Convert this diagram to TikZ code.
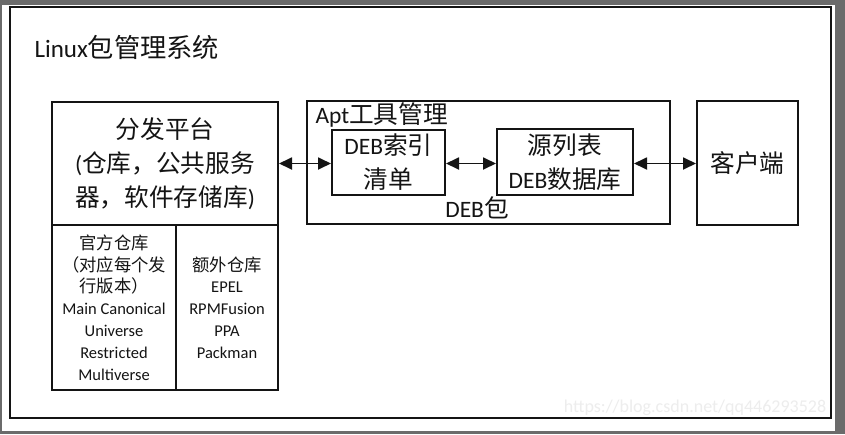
\documentclass[tikz,border=0pt]{standalone}
\usepackage{fontspec}
\setmainfont{Carlito}
\newfontfamily\cjk[Scale=1.05]{Noto Sans CJK SC}
\usetikzlibrary{arrows.meta}
\definecolor{bggray}{HTML}{6B6B6B}
\definecolor{ink}{HTML}{141414}
\begin{document}
\begin{tikzpicture}[x=1pt,y=-1pt,
  box/.style={draw=ink, line width=2pt, inner sep=0pt},
  big/.style={font=\fontsize{23.5}{34}\selectfont, align=center, text=ink},
  small/.style={font=\fontsize{16.5}{21.8}\selectfont, align=center, text=ink},
  link/.style={ink, line width=1.8pt, {Triangle[length=13pt,width=12pt]}-{Triangle[length=13pt,width=12pt]}},
]
\useasboundingbox (0,0) rectangle (845,434);
\fill[bggray] (0,0) rectangle (845,434);
\fill[white] (2,5) rectangle (835,431);
\draw[ink, line width=2.6pt] (10,7) rectangle (831,418);

\node[anchor=west, text=ink, font=\fontsize{25}{30}\selectfont] (title) at (31,47) {Linux{\cjk 包管理系统}};

\node[box, minimum width=226pt, minimum height=123pt, big] (dist) at (165,163.5)
  {{\cjk 分发平台}\\({\cjk 仓库，公共服务}\\{\cjk 器，软件存储库})};
\node[box, minimum width=124pt, minimum height=165pt, small] (official) at (114,307.5)
  {{\cjk 官方仓库}\\{\cjk （对应每个发}\\{\cjk 行版本）}\\Main Canonical\\Universe\\Restricted\\Multiverse};
\node[box, minimum width=102pt, minimum height=165pt, small] (extra) at (227,307.5)
  {{\cjk 额外仓库}\\EPEL\\RPMFusion\\PPA\\Packman};

\node[box, minimum width=363pt, minimum height=123pt] (apt) at (488.5,162.5) {};
\node[anchor=west, big] (aptlabel) at (312,115) {Apt{\cjk 工具管理}};
\node[box, minimum width=113pt, minimum height=65pt, big] (deb) at (388.5,162.5)
  {DEB{\cjk 索引}\\{\cjk 清单}};
\node[box, minimum width=136pt, minimum height=66pt, big] (src) at (565,162)
  {{\cjk 源列表}\\DEB{\cjk 数据库}};
\node[big] (deblabel) at (477,208) {DEB{\cjk 包}};

\node[box, minimum width=101pt, minimum height=124pt, big] (client) at (747.5,163) {{\cjk 客户端}};

\draw[link] (dist.east) -- (dist.east -| deb.west);
\draw[link] (deb.east |- dist.east) -- (dist.east -| src.west);
\draw[link] (src.east |- dist.east) -- (dist.east -| client.west);

\node[text=black!7, font=\fontsize{18}{20}\selectfont] (mark) at (695,408) {https://blog.csdn.net/qq446293528};
\end{tikzpicture}
\end{document}
